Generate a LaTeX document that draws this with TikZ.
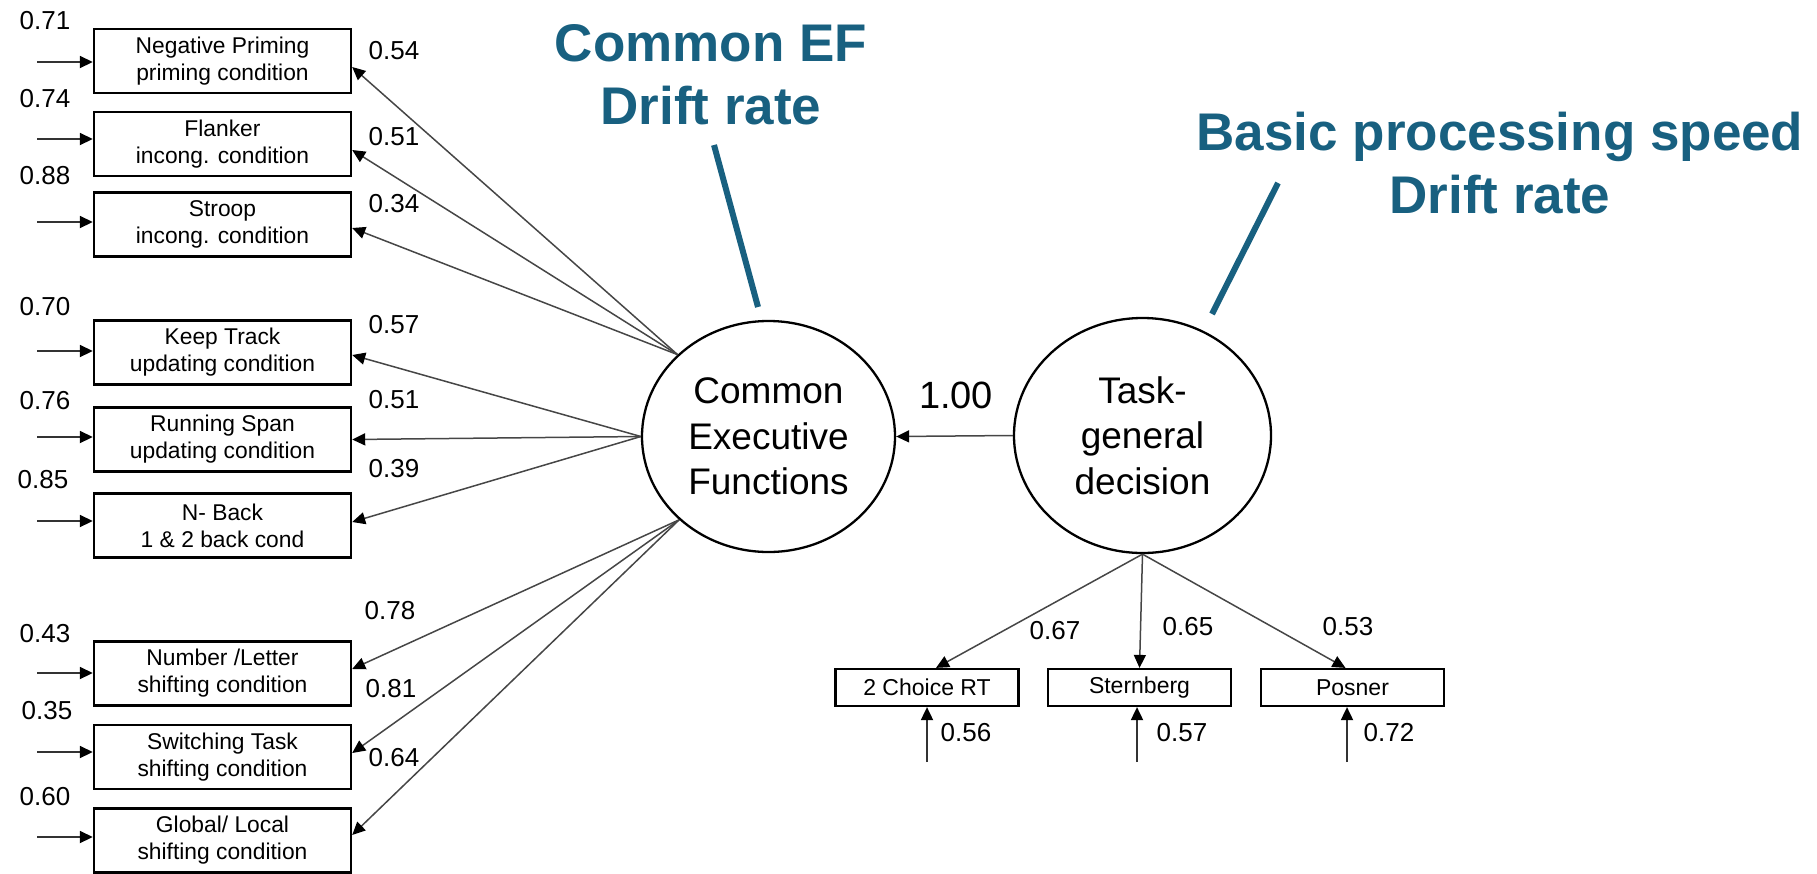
\documentclass[tikz,border=0pt]{standalone}
\usepackage{fontspec}
\setmainfont{Liberation Sans}
\usetikzlibrary{shapes.geometric,arrows.meta}
\definecolor{titleblue}{RGB}{24,96,128}
\definecolor{linkgray}{RGB}{70,70,70}
\newcommand{\fsz}[2]{\fontsize{#1}{#2}\selectfont}
\begin{document}
\begin{tikzpicture}[x=1pt,y=-1pt,
  obsbox/.style={draw=black,line width=2.4pt,minimum width=257pt,minimum height=64pt,
    inner sep=0pt,align=center,font=\fsz{22.8}{27}},
  smallbox/.style={draw=black,line width=2.2pt,minimum width=183pt,minimum height=37pt,
    inner sep=0pt,font=\fsz{23}{27}},
  latent/.style={draw=black,line width=2.3pt,ellipse,inner sep=0pt,align=center,
    font=\fsz{37}{45.5}},
  num/.style={inner sep=0pt,font=\fsz{26}{30}},
  title/.style={inner sep=0pt,align=center,text=titleblue,font=\fsz{53}{63}\bfseries},
  pointer/.style={draw=titleblue,line width=6pt},
  load/.style={draw=linkgray,line width=1.5pt,-{Triangle[length=13pt,width=12pt,color=black]}},
  err/.style={draw=black!80,line width=1.8pt,-{Triangle[length=13pt,width=12pt,color=black]}},
]
\useasboundingbox (0,0) rectangle (1817,873);

% latent factors
\node[latent,minimum width=253pt,minimum height=231pt] (cef) at (768.5,436.5)
  {Common\\Executive\\Functions};
\node[latent,minimum width=257pt,minimum height=235pt] (tg) at (1142.5,435.5)
  {Task-\\general\\decision};

% indicators of the common EF factor
\node[obsbox] (b1) at (222.5,61)    {Negative Priming\\priming condition};
\node[obsbox] (b2) at (222.5,144)   {Flanker\\incong. condition};
\node[obsbox] (b3) at (222.5,224.5) {Stroop\\incong. condition};
\node[obsbox] (b4) at (222.5,352.5) {Keep Track\\updating condition};
\node[obsbox] (b5) at (222.5,439.5) {Running Span\\updating condition};
\node[obsbox] (b6) at (222.5,525.5) {N- Back\\1 \& 2 back cond};
\node[obsbox] (b7) at (222.5,673.5) {Number /Letter\\shifting condition};
\node[obsbox] (b8) at (222.5,757)   {Switching Task\\shifting condition};
\node[obsbox] (b9) at (222.5,840.5) {Global/ Local\\shifting condition};

% indicators of the task-general factor
\node[smallbox] (c1) at (927,687.5)    {2 Choice RT};
\node[smallbox] (c2) at (1139.5,687.5) {Sternberg};
\node[smallbox] (c3) at (1352.5,687.5) {Posner};

% residual arrows on the left
\foreach \i/\y in {1/62,2/139,3/222,4/351,5/437,6/521,7/673,8/752,9/837}{
  \coordinate (e\i) at (37,\y);
  \draw[err] (e\i) -- (e\i -| b\i.west);
}

% residual arrows below the small boxes
\coordinate (f1) at (927,762);
\coordinate (f2) at (1137,762);
\coordinate (f3) at (1347,762);
\draw[err] (f1) -- (f1 |- c1.south);
\draw[err] (f2) -- (f2 |- c2.south);
\draw[err] (f3) -- (f3 |- c3.south);

% loadings of the common EF factor
\draw[load] (cef.138) -- ([yshift=-6pt]b1.east);
\draw[load] (cef.138) -- ([yshift=-6pt]b2.east);
\draw[load] (cef.138) -- ([yshift=-3.5pt]b3.east);
\draw[load] (cef.west) -- ([yshift=-2.5pt]b4.east);
\draw[load] (cef.west) -- (b5.east);
\draw[load] (cef.west) -- ([yshift=3.5pt]b6.east);
\draw[load] (cef.223) -- ([yshift=4.5pt]b7.east);
\draw[load] (cef.223) -- ([yshift=4pt]b8.east);
\draw[load] (cef.223) -- ([yshift=5.5pt]b9.east);

% loadings of the task-general factor
\draw[load] (tg.south) -- ([xshift=9pt]c1.north);
\draw[load] (tg.south) -- (c2.north);
\draw[load] (tg.south) -- ([xshift=-7pt]c3.north);

% path between the factors
\draw[load] (tg.west) -- (cef.east);
\node[inner sep=0pt,font=\fsz{38}{44}] (w) at (956,395) {1.00};

% residual variances
\node[num] (r1) at (45,21)  {0.71};
\node[num] (r2) at (45,99)  {0.74};
\node[num] (r3) at (45,176) {0.88};
\node[num] (r4) at (45,307) {0.70};
\node[num] (r5) at (45,401) {0.76};
\node[num] (r6) at (43,480) {0.85};
\node[num] (r7) at (45,634) {0.43};
\node[num] (r8) at (47,711) {0.35};
\node[num] (r9) at (45,797) {0.60};

% loading values
\node[num] (l1) at (394,51)  {0.54};
\node[num] (l2) at (394,137) {0.51};
\node[num] (l3) at (394,204) {0.34};
\node[num] (l4) at (394,325) {0.57};
\node[num] (l5) at (394,400) {0.51};
\node[num] (l6) at (394,469) {0.39};
\node[num] (l7) at (390,611) {0.78};
\node[num] (l8) at (391,689) {0.81};
\node[num] (l9) at (394,758) {0.64};

\node[num] (m1) at (1055,631) {0.67};
\node[num] (m2) at (1188,627) {0.65};
\node[num] (m3) at (1348,627) {0.53};
\node[num] (s1) at (966,733)  {0.56};
\node[num] (s2) at (1182,733) {0.57};
\node[num] (s3) at (1389,733) {0.72};

% annotations
\node[title] (t1) at (711,75)   {Common EF\\Drift rate};
\node[title] (t2) at (1500,163) {Basic processing speed\\Drift rate};
\coordinate (p1) at (714,145);
\coordinate (q1) at (758,307);
\coordinate (p2) at (1278,183);
\coordinate (q2) at (1212,314);
\draw[pointer] (p1) -- (q1);
\draw[pointer] (p2) -- (q2);
\end{tikzpicture}
\end{document}
